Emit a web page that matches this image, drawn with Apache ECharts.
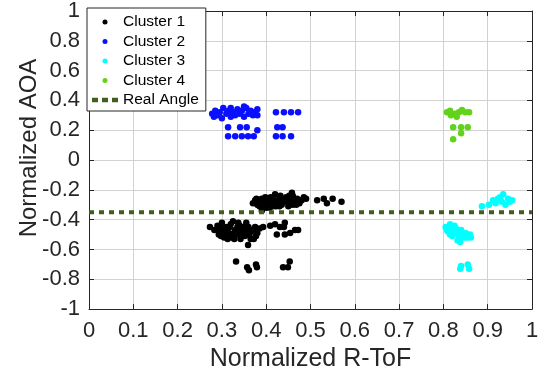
<!DOCTYPE html>
<html>
<head>
<meta charset="utf-8">
<script src="https://cdn.jsdelivr.net/npm/echarts@6/dist/echarts.min.js"></script>
<style>html,body{margin:0;padding:0;background:#fff;}#c{width:548px;height:377px;}</style>
</head>
<body>
<div id="c"></div>
<script>
const seriesNames = ['Cluster 1', 'Cluster 2', 'Cluster 3', 'Cluster 4', 'Real Angle'];
const xTickLabels = ['0','0.1','0.2','0.3','0.4','0.5','0.6','0.7','0.8','0.9','1'];
const yTickLabels = ['-1','-0.8','-0.6','-0.4','-0.2','0','0.2','0.4','0.6','0.8','1'];

const cluster1 = [
  [0.37,-0.29],[0.375,-0.27],[0.38,-0.30],[0.385,-0.28],[0.39,-0.31],[0.39,-0.26],[0.395,-0.29],[0.40,-0.27],
  [0.405,-0.30],[0.41,-0.28],[0.41,-0.25],[0.415,-0.31],[0.42,-0.27],[0.425,-0.29],[0.43,-0.26],[0.435,-0.30],
  [0.44,-0.28],[0.445,-0.25],[0.45,-0.29],[0.455,-0.27],[0.46,-0.30],[0.46,-0.24],[0.465,-0.28],[0.47,-0.26],
  [0.475,-0.29],[0.48,-0.27],[0.458,-0.22],[0.485,-0.25],[0.49,-0.26],[0.515,-0.27],[0.53,-0.26],[0.537,-0.29],
  [0.55,-0.26],[0.57,-0.28],[0.39,-0.34],[0.40,-0.32],[0.43,-0.31],[0.45,-0.31],[0.42,-0.23],[0.385,-0.31],
  [0.378,-0.26],[0.398,-0.25],[0.402,-0.29],[0.418,-0.29],[0.428,-0.28],[0.438,-0.27],[0.448,-0.27],[0.462,-0.26],
  [0.472,-0.28],[0.432,-0.24],[0.452,-0.24],[0.468,-0.30],[0.408,-0.32],[0.422,-0.31],
  [0.273,-0.45],[0.283,-0.47],[0.29,-0.44],[0.293,-0.50],[0.30,-0.47],[0.305,-0.52],[0.31,-0.45],[0.315,-0.49],
  [0.32,-0.43],[0.322,-0.52],[0.33,-0.47],[0.333,-0.50],[0.34,-0.44],[0.342,-0.53],[0.35,-0.48],[0.352,-0.51],
  [0.36,-0.45],[0.362,-0.50],[0.37,-0.47],[0.372,-0.53],[0.38,-0.49],[0.385,-0.46],[0.355,-0.42],[0.325,-0.41],
  [0.30,-0.42],[0.359,-0.57],[0.393,-0.45],[0.31,-0.51],[0.345,-0.47],
  [0.288,-0.47],[0.297,-0.45],[0.303,-0.49],[0.312,-0.47],[0.318,-0.45],[0.327,-0.49],[0.335,-0.45],[0.338,-0.49],
  [0.348,-0.45],[0.357,-0.49],[0.366,-0.48],[0.375,-0.45],[0.377,-0.51],[0.328,-0.53],[0.313,-0.53],[0.298,-0.51],
  [0.346,-0.51],[0.365,-0.53],[0.337,-0.42],
  [0.409,-0.44],[0.42,-0.43],[0.431,-0.45],[0.442,-0.42],[0.44,-0.45],[0.424,-0.50],[0.442,-0.50],[0.454,-0.49],
  [0.465,-0.47],[0.472,-0.47],
  [0.332,-0.68],[0.357,-0.72],[0.361,-0.74],[0.377,-0.70],[0.379,-0.72],[0.438,-0.72],[0.449,-0.72],[0.453,-0.68]
];
const cluster2 = [
  [0.278,0.31],[0.282,0.29],[0.285,0.33],[0.29,0.30],[0.295,0.32],[0.30,0.28],[0.303,0.35],[0.31,0.31],
  [0.315,0.33],[0.32,0.29],[0.325,0.32],[0.33,0.30],[0.335,0.34],[0.34,0.31],[0.345,0.33],[0.35,0.29],
  [0.355,0.35],[0.36,0.31],[0.365,0.33],[0.37,0.30],[0.375,0.32],[0.38,0.34],[0.38,0.30],[0.35,0.36],[0.32,0.35],
  [0.314,0.22],[0.341,0.22],[0.356,0.22],[0.38,0.20],
  [0.314,0.16],[0.33,0.16],[0.345,0.16],[0.359,0.16],[0.372,0.16],
  [0.422,0.32],[0.44,0.32],[0.456,0.32],[0.472,0.32],[0.425,0.22],[0.437,0.22],[0.422,0.16],[0.437,0.16],[0.456,0.16]
];
const cluster3 = [
  [0.805,-0.45],[0.81,-0.48],[0.815,-0.43],[0.82,-0.47],[0.82,-0.51],[0.825,-0.44],[0.83,-0.49],[0.832,-0.54],
  [0.84,-0.47],[0.842,-0.51],[0.85,-0.49],[0.855,-0.52],[0.86,-0.50],[0.815,-0.50],[0.828,-0.46],
  [0.808,-0.47],[0.818,-0.45],[0.835,-0.51],[0.848,-0.52],[0.862,-0.52],[0.838,-0.55],
  [0.84,-0.71],[0.855,-0.70],[0.858,-0.73],[0.838,-0.73],
  [0.887,-0.31],[0.903,-0.30],[0.912,-0.27],[0.923,-0.26],[0.932,-0.28],[0.935,-0.23],[0.946,-0.26],[0.95,-0.28],
  [0.955,-0.27],[0.918,-0.29],[0.94,-0.30],[0.928,-0.25]
];
const cluster4 = [
  [0.808,0.32],[0.817,0.30],[0.826,0.31],[0.835,0.32],[0.842,0.335],[0.849,0.32],[0.858,0.32],[0.815,0.33],[0.83,0.29],
  [0.822,0.22],[0.84,0.22],[0.855,0.22],[0.84,0.18],[0.822,0.14]
];
const realAngleX = [0, 1];
const realAngleY = [-0.35, -0.35];

const clusterColors = ['#000000', '#0a10ff', '#00ffff', '#62d21a'];
const lineColor = '#3f5f1a';
const font = 'Liberation Sans, Arial, sans-serif';
const axisColor = '#262626';

const chart = echarts.init(document.getElementById('c'), null, {renderer: 'canvas'});
const clusters = [cluster1, cluster2, cluster3, cluster4];

const option = {
  animation: false,
  backgroundColor: '#ffffff',
  grid: {left: 89, right: 16, top: 9, bottom: 64, show: false},
  legend: {
    orient: 'vertical', left: 87, top: 8,
    backgroundColor: '#ffffff', borderColor: axisColor, borderWidth: 1, borderRadius: 0,
    padding: [6, 7, 3, 5], itemGap: 3.5, itemWidth: 26, itemHeight: 5,
    textStyle: {fontFamily: font, fontSize: 15.5, color: '#000', lineHeight: 15},
    data: seriesNames.slice(0, 4).map(n => ({name: n, icon: 'circle'})).concat([{
      name: seriesNames[4],
      icon: 'path://M0,0h6v4.5h-6z M10,0h6v4.5h-6z M20,0h6v4.5h-6z'
    }])
  },
  xAxis: [{
    type: 'value', min: 0, max: 1, interval: 0.1,
    axisLine: {show: true, onZero: false, lineStyle: {color: axisColor, width: 1}},
    axisTick: {show: true, inside: true, length: 5, lineStyle: {color: axisColor}},
    axisLabel: {fontFamily: font, fontSize: 22, color: axisColor, margin: 11,
      formatter: (v) => xTickLabels[Math.round(v * 10)]},
    splitLine: {show: true, lineStyle: {color: '#d2d2d2', width: 1}},
    name: 'Normalized R-ToF', nameLocation: 'middle', nameGap: 32,
    nameTextStyle: {fontFamily: font, fontSize: 25, color: axisColor}
  }, {
    type: 'value', min: 0, max: 1, interval: 0.1, position: 'top',
    axisLine: {show: true, onZero: false, lineStyle: {color: axisColor, width: 1}},
    axisTick: {show: true, inside: true, length: 5, lineStyle: {color: axisColor}},
    axisLabel: {show: false}, splitLine: {show: false}
  }],
  yAxis: [{
    type: 'value', min: -1, max: 1, interval: 0.2,
    axisLine: {show: true, onZero: false, lineStyle: {color: axisColor, width: 1}},
    axisTick: {show: true, inside: true, length: 5, lineStyle: {color: axisColor}},
    axisLabel: {fontFamily: font, fontSize: 22, color: axisColor, margin: 9,
      formatter: (v) => yTickLabels[Math.round((v + 1) * 5)]},
    splitLine: {show: true, lineStyle: {color: '#d2d2d2', width: 1}}
  }, {
    type: 'value', min: -1, max: 1, interval: 0.2, position: 'right',
    axisLine: {show: true, onZero: false, lineStyle: {color: axisColor, width: 1}},
    axisTick: {show: true, inside: true, length: 5, lineStyle: {color: axisColor}},
    axisLabel: {show: false}, splitLine: {show: false}
  }],
  graphic: [{
    type: 'text', x: 29, y: 148, rotation: Math.PI / 2,
    style: {text: 'Normalized AOA', font: '24px ' + font, fill: axisColor, align: 'center', verticalAlign: 'middle'}
  }],
  series: clusters.map((d, i) => ({
    name: seriesNames[i], type: 'scatter', symbol: 'circle', symbolSize: 6.5,
    itemStyle: {color: clusterColors[i], opacity: 1},
    data: d
  })).concat([{
    name: seriesNames[4], type: 'line', symbol: 'none',
    lineStyle: {color: lineColor, width: 4, type: [5, 5]},
    itemStyle: {color: lineColor},
    data: realAngleX.map((x, i) => [x, realAngleY[i]]),
    z: 5
  }])
};
chart.setOption(option);
</script>
</body>
</html>
